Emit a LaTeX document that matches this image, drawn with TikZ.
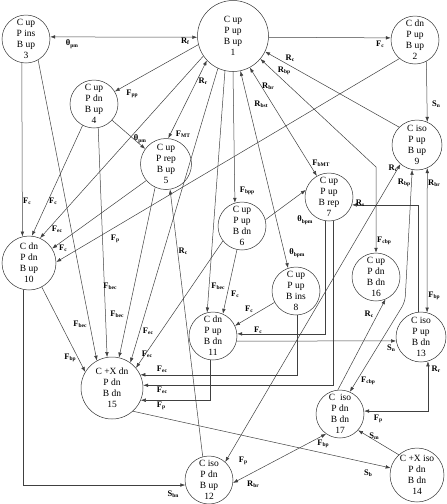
\documentclass[tikz,border=0pt]{standalone}
\usepackage{fontspec}
\setmainfont{Liberation Serif}
\usetikzlibrary{arrows.meta}
\tikzset{
 st/.style={circle,draw=black!80,line width=0.5pt,minimum size=48pt,inner sep=0pt,align=center,font=\fontsize{9.5}{11}\selectfont},
 ln/.style={draw=black!75,line width=0.5pt},
 ar/.style={ln,-{Latex[length=5pt,width=3.6pt]}},
 ab/.style={ln,{Latex[length=5pt,width=3.6pt]}-{Latex[length=5pt,width=3.6pt]}},
 lb/.style={font=\fontsize{8.5}{9}\selectfont\bfseries,inner sep=0pt},
}
\newcommand\lab[2]{#1\raisebox{-0.35ex}{\fontsize{5.5}{6}\selectfont\bfseries #2}}
\begin{document}
\begin{tikzpicture}[x=1pt,y=-1pt]
\useasboundingbox (0,0) rectangle (447,504);
\node[st,minimum size=71pt] (n1) at (233,36) {C up\\P up\\B up\\1};
\node[st] (n2) at (415,40) {C dn\\P up\\B up\\2};
\node[st] (n3) at (26,39) {C up\\P ins\\B up\\3};
\node[st] (n4) at (94,104) {C up\\P dn\\B up\\4};
\node[st,minimum size=51pt] (n5) at (166,164) {C up\\P rep\\B up\\5};
\node[st] (n6) at (242,226) {C up\\P up\\B dn\\6};
\node[st] (n7) at (329,197) {C up\\P up\\B rep\\7};
\node[st] (n8) at (296,291) {C up\\P up\\B ins\\8};
\node[st,minimum size=50pt] (n9) at (417,145) {C iso\\P up\\B up\\9};
\node[st,minimum size=54pt] (n10) at (29,263) {C dn\\P dn\\B up\\10};
\node[st] (n11) at (213,336) {C dn\\P up\\B dn\\11};
\node[st] (n12) at (209,480) {C iso\\P dn\\B up\\12};
\node[st,minimum size=50pt] (n13) at (421,337) {C iso\\P up\\B dn\\13};
\node[st,minimum size=54pt] (n14) at (417,475) {C +X iso\\P dn\\B dn\\14};
\node[st,minimum size=62pt] (n15) at (112,388) {C +X dn\\P dn\\B dn\\15};
\node[st] (n16) at (376,277) {C up\\P dn\\B dn\\16};
\node[st] (n17) at (340,414) {C\ \ iso\\P dn\\B dn\\17};
\coordinate (b16) at (376,167);
\coordinate (b17) at (405,302);
% edges
\draw[ab] (n3.5) -- (n1.182);
\draw[ar] (n1.-2) -- (n2.175);
\draw[ar] (n2.-62) -- (n9.66);
\draw[ar] (n1.194) -- (n4.31);
\draw[ar] (n1.214) -- (n10.66);
\draw[ar] (n4.242) -- (n10.84);
\draw[ar] (n3.260) -- (n10.104);
\draw[ar] (n3.300) -- (n15.119);
\draw[ar] (n4.280) -- (n15.99);
\draw[ar] (n5.245) -- (n15.77);
\draw[ar] (n1.245) -- (n15.54);
\draw[ar] (n6.218) -- (n15.40);
\draw[ar] (n1.257) -- (n11.104);
\draw[ar] (n6.258) -- (n11.66);
\draw[ar] (n8.208) -- (n11.25);
\draw[ar] (n7.260) |- (n11.5);
\draw[ar] (n11.-12) -- (n13.189);
\draw[ar] (n8.-88) |- (n15.25);
\draw[ar] (n7.-81) |- (n15.5);
\draw[ar] (n11.-96) |- (n15.-23);
\draw[ar] (n10.298) -- (n15.149);
\draw[ar] (n10.257) |- (n12.192);
\draw[ar] (n2.230) -- (n10.2);
\draw[ar] (n5.220) -- (n10.32);
\draw[ab] (n1.223) -- (n5.85);
\draw[ar] (n4.318) -- (n5.144);
\draw[ar] (n1.-90) -- (n6.107);
\draw[ab] (n1.282) -- (n8.109);
\draw[ab] (n1.298) -- (n7.120);
\draw[ab] (n1.320) -- (b16) -- (n16.90);
\draw[ar] (n9.135) -- (n1.334);
\draw[ar] (n6.15) -- (n7.163);
\draw[ar] (n12.105) -- (n5.279);
\draw[ab] (n9.229) -- (n12.48);
\draw[ab] (n9.-66) -- (n13.76);
\draw[ar] (n13.97) |- (n7.-19);
\draw[ab,rounded corners=6pt] (n9.259) -- (b17) -- (n17.66);
\draw[ar] (n17.95) -- (n16.293);
\draw[ab] (n13.-74) |- (n17.7);
\draw[ab] (n12.353) -- (n17.235);
\draw[ar] (n15.312) -- (n14.165);
\draw[ar] (n14.132) -- (n17.318);
% labels
\node[lb] (l1) at (72,44) {\lab{θ}{pm}};
\node[lb] (l2) at (185,41) {\lab{R}{f}};
\node[lb] (l3) at (380,44) {\lab{F}{c}};
\node[lb] (l4) at (436,104) {\lab{S}{n}};
\node[lb] (l5) at (132,94) {\lab{F}{pp}};
\node[lb] (l6) at (140,139) {\lab{θ}{pm}};
\node[lb] (l7) at (203,81) {\lab{R}{r}};
\node[lb] (l8) at (183,134) {\lab{F}{MT}};
\node[lb] (l9) at (290,58) {\lab{R}{c}};
\node[lb] (l10) at (284,71) {\lab{R}{bp}};
\node[lb] (l11) at (268,86) {\lab{R}{br}};
\node[lb] (l12) at (261,104) {\lab{R}{bst}};
\node[lb] (l13) at (321,163) {\lab{F}{bMT}};
\node[lb] (l14) at (247,191) {\lab{F}{bpp}};
\node[lb] (l15) at (305,220) {\lab{θ}{bpm}};
\node[lb] (l16) at (297,253) {\lab{θ}{bpm}};
\node[lb] (l17) at (360,203) {\lab{R}{s}};
\node[lb] (l18) at (393,168) {\lab{R}{c}};
\node[lb] (l19) at (404,183) {\lab{R}{bp}};
\node[lb] (l20) at (434,183) {\lab{R}{br}};
\node[lb] (l21) at (384,241) {\lab{F}{cbp}};
\node[lb] (l22) at (369,314) {\lab{R}{c}};
\node[lb] (l23) at (434,296) {\lab{F}{bp}};
\node[lb] (l24) at (391,348) {\lab{S}{n}};
\node[lb] (l25) at (436,369) {\lab{R}{r}};
\node[lb] (l26) at (368,381) {\lab{F}{cbp}};
\node[lb] (l27) at (378,419) {\lab{F}{p}};
\node[lb] (l28) at (374,436) {\lab{S}{m}};
\node[lb] (l29) at (323,444) {\lab{F}{bp}};
\node[lb] (l30) at (368,473) {\lab{S}{b}};
\node[lb] (l31) at (243,461) {\lab{F}{p}};
\node[lb] (l32) at (253,484) {\lab{R}{br}};
\node[lb] (l33) at (173,494) {\lab{S}{bn}};
\node[lb] (l34) at (183,251) {\lab{R}{c}};
\node[lb] (l35) at (218,286) {\lab{F}{bec}};
\node[lb] (l36) at (235,294) {\lab{F}{c}};
\node[lb] (l37) at (249,309) {\lab{F}{c}};
\node[lb] (l38) at (258,330) {\lab{F}{c}};
\node[lb] (l39) at (162,369) {\lab{F}{ec}};
\node[lb] (l40) at (162,390) {\lab{F}{ec}};
\node[lb] (l41) at (161,406) {\lab{F}{p}};
\node[lb] (l42) at (70,358) {\lab{F}{bp}};
\node[lb] (l43) at (147,354) {\lab{F}{ec}};
\node[lb] (l44) at (148,331) {\lab{F}{ec}};
\node[lb] (l45) at (117,314) {\lab{F}{bec}};
\node[lb] (l46) at (110,286) {\lab{F}{bec}};
\node[lb] (l47) at (80,324) {\lab{F}{bec}};
\node[lb] (l48) at (27,201) {\lab{F}{c}};
\node[lb] (l49) at (53,201) {\lab{F}{c}};
\node[lb] (l50) at (57,229) {\lab{F}{ec}};
\node[lb] (l51) at (63,248) {\lab{F}{c}};
\node[lb] (l52) at (115,239) {\lab{F}{p}};
\end{tikzpicture}
\end{document}
